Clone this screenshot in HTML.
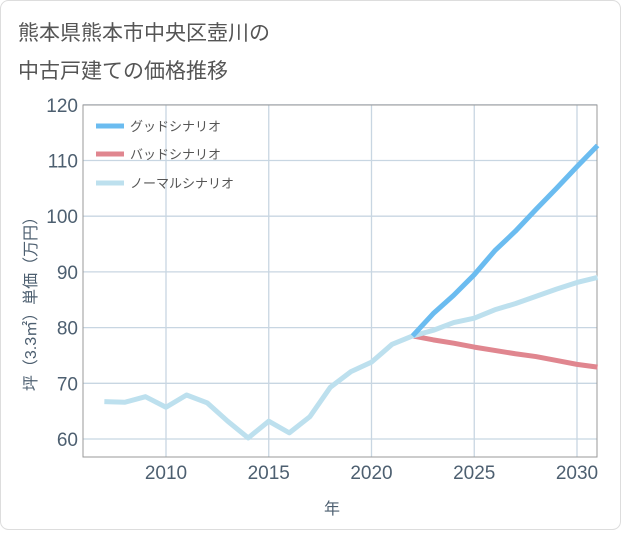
<!DOCTYPE html>
<html><head><meta charset="utf-8"><style>
body{margin:0;background:#fff;}
svg text{font-family:"Liberation Sans","Noto Sans CJK JP",sans-serif;}
</style></head><body>
<svg width="621" height="530" xmlns="http://www.w3.org/2000/svg">
<rect x="0.5" y="0.5" width="620" height="529" rx="8" fill="#fff" stroke="#ddd"/>
<text x="18" y="40" font-size="21" fill="#555">熊本県熊本市中央区壺川の</text>
<text x="18" y="78" font-size="21" fill="#555">中古戸建ての価格推移</text>
<g id="grid"></g>
<rect x="83" y="105" width="514" height="352" fill="none" stroke="#999"/>
<g id="ticks"></g>
<g id="series"></g>
<text x="332" y="514" font-size="16" fill="#4d5f70" text-anchor="middle">年</text>
<text transform="translate(36,300) rotate(-90)" font-size="16" fill="#4d5f70" text-anchor="middle">坪（3.3㎡）単価（万円）</text>
<g>
<line x1="96" y1="126" x2="124" y2="126" stroke="#6bbcf0" stroke-width="5"/>
<text x="130" y="131" font-size="13" fill="#555">グッドシナリオ</text>
<line x1="96" y1="154" x2="124" y2="154" stroke="#e0868f" stroke-width="5"/>
<text x="130" y="159" font-size="13" fill="#555">バッドシナリオ</text>
<line x1="96" y1="183" x2="124" y2="183" stroke="#bde0ee" stroke-width="5"/>
<text x="130" y="188" font-size="13" fill="#555">ノーマルシナリオ</text>
</g>
</svg>
<script>
const normalYears=[2007,2008,2009,2010,2011,2012,2013,2014,2015,2016,2017,2018,2019,2020,2021,2022,2023,2024,2025,2026,2027,2028,2029,2030,2031];
const normalValues=[66.7,66.6,67.6,65.7,67.9,66.5,63.2,60.2,63.2,61.1,64.0,69.3,72.1,73.8,77.0,78.5,79.5,80.9,81.7,83.2,84.3,85.6,86.9,88.1,89.0];
const scenarioYears=[2022,2023,2024,2025,2026,2027,2028,2029,2030,2031];
const goodValues=[78.5,82.5,85.8,89.5,93.8,97.3,101.2,105.0,108.9,112.7];
const badValues=[78.5,77.8,77.2,76.5,75.9,75.3,74.8,74.1,73.4,72.9];
const yTicks=[60,70,80,90,100,110,120];
const xTicks=[2010,2015,2020,2025,2030];
const NS="http://www.w3.org/2000/svg";
const X=v=>166+(v-2010)*20.55;
const Y=v=>439-(v-60)*5.57;
const grid=document.getElementById('grid'),ticks=document.getElementById('ticks'),series=document.getElementById('series');
function mk(t,a,p){const e=document.createElementNS(NS,t);for(const k in a)e.setAttribute(k,a[k]);p.appendChild(e);return e;}
yTicks.forEach(v=>{
 const l=mk('line',{x1:83,x2:597,y1:Y(v),y2:Y(v),stroke:'#c8d6e2','stroke-width':1.3},grid);
 
 
 const t=mk('text',{x:78,y:Y(v)+7,'font-size':19,fill:'#4d5f70','text-anchor':'end'},ticks);
 t.textContent=v;
 
 
});
xTicks.forEach(v=>{
 const l=mk('line',{x1:X(v),x2:X(v),y1:105,y2:457,stroke:'#c8d6e2','stroke-width':1.3},grid);
 
 
 const t=mk('text',{x:X(v),y:479,'font-size':19,fill:'#4d5f70','text-anchor':'middle'},ticks);
 t.textContent=v;
 
 
});
function line(xs,ys,c,name){
 const p=mk('polyline',{points:xs.map((x,i)=>X(x)+','+Y(ys[i])).join(' '),fill:'none',stroke:c,'stroke-width':5,'stroke-linejoin':'round'},series);
 
 
}
line(scenarioYears,badValues,'#e0868f','bad-scenario-line');
line(normalYears,normalValues,'#bde0ee','normal-scenario-line');
line(scenarioYears,goodValues,'#6bbcf0','good-scenario-line');
</script>
</body></html>
